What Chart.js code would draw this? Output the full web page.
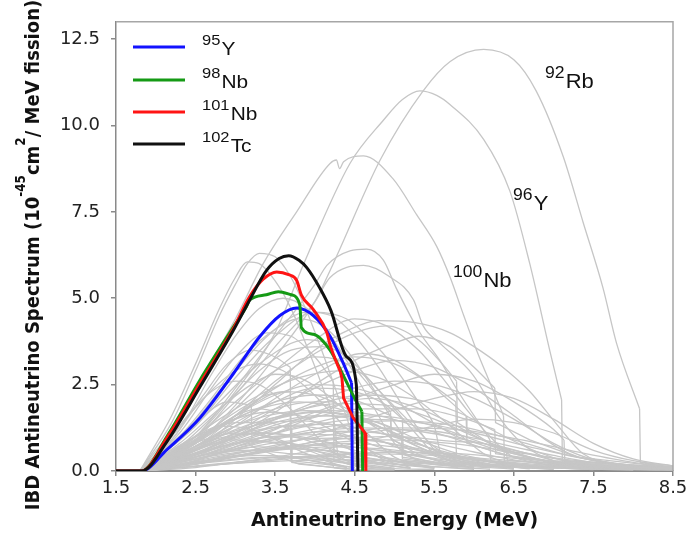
<!DOCTYPE html>
<html>
<head>
<meta charset="utf-8">
<script src="https://cdn.jsdelivr.net/npm/chart.js@4.4.1/dist/chart.umd.min.js"></script>
<style>
    html, body { margin: 0; padding: 0; background: #fff; }
</style>
</head>
<body>
<canvas id="ibdChart" width="693" height="537"></canvas>
<script>
// Axis ticks
const energyTicks = [1.5, 2.5, 3.5, 4.5, 5.5, 6.5, 7.5, 8.5];
const spectrumTicks = [0, 2.5, 5, 7.5, 10, 12.5];

// Highlighted isotopes (legend)
const highlightMass = ['95', '98', '101', '102'];
const highlightElement = ['Y', 'Nb', 'Nb', 'Tc'];

// [energy MeV, spectrum]
const spec95Y = [[1.5,0],[1.82,0],[2.14,0.62],[2.56,1.55],[2.97,2.8],[3.31,3.9],[3.56,4.5],[3.77,4.72],[3.98,4.5],[4.19,3.9],[4.36,3.1],[4.46,2.55],[4.47,0]];
const spec98Nb = [[1.5,0],[1.82,0],[2.14,1.0],[2.56,2.65],[2.97,4.15],[3.14,4.76],[3.18,4.95],[3.39,5.1],[3.54,5.19],[3.7,5.1],[3.81,4.81],[3.83,4.15],[3.98,3.96],[4.19,3.5],[4.36,2.75],[4.5,2.1],[4.59,1.72],[4.6,0]];
const spec101Nb = [[1.5,0],[1.82,0],[2.14,0.95],[2.56,2.55],[2.97,4.1],[3.18,5.05],[3.35,5.55],[3.52,5.76],[3.67,5.68],[3.77,5.52],[3.83,5.09],[3.98,4.67],[4.15,4.0],[4.19,3.65],[4.32,2.87],[4.34,2.68],[4.36,2.11],[4.48,1.54],[4.61,1.16],[4.63,1.1],[4.64,0]];
const spec102Tc = [[1.5,0],[1.82,0],[2.14,0.85],[2.56,2.45],[2.97,4.05],[3.18,4.95],[3.39,5.8],[3.55,6.15],[3.67,6.23],[3.8,6.1],[3.9,5.88],[4.06,5.3],[4.2,4.65],[4.4,3.3],[4.52,2.5],[4.54,0]];

// Labelled grey spectra
const spec92Rb = [[1.8,0],[2.5,0.8],[3.0,1.9],[3.5,3.3],[4.0,4.9],[4.23,6.0],[4.82,9.0],[5.36,11.0],[5.7,11.85],[6.12,12.2],[6.5,11.9],[6.78,11.0],[7.12,9.1],[7.37,7.2],[7.62,5.3],[7.79,3.7],[8.08,1.8],[8.09,0.25],[8.5,0.1]];
const spec96Y = [[1.8,0],[2.5,1.0],[3.0,2.3],[3.5,4.0],[3.86,6.0],[4.44,8.9],[4.86,10.15],[5.1,10.75],[5.32,11.0],[5.53,10.87],[5.7,10.6],[6.12,9.6],[6.45,8.1],[6.7,6.0],[6.95,3.5],[7.1,2.06],[7.11,0.25],[8.5,0.05]];
const spec100Nb = [[1.8,0],[2.2,1.2],[2.5,2.4],[3.0,4.4],[3.35,6.0],[3.77,7.5],[4.19,8.9],[4.27,9.0],[4.31,8.75],[4.36,8.95],[4.61,9.12],[4.98,8.46],[5.28,7.41],[5.53,6.5],[5.7,5.6],[5.87,4.5],[6.03,3.5],[6.2,2.55],[6.37,1.6],[6.38,0.3],[8.5,0.05]];
const labelMass = ['92', '96', '100'];
const labelElement = ['Rb', 'Y', 'Nb'];

// Remaining grey spectra
const otherSpectra = [
    [[1.8,0],[2.2,1.4],[2.5,2.9],[2.8,4.5],[3.0,5.4],[3.15,6.0],[3.3,6.3],[3.5,6.2],[3.7,5.6],[3.9,4.6],[4.1,3.4],[4.3,2.1],[4.45,1.1],[4.5,0.2],[5.5,0.05]],
    [[1.8,0],[2.2,1.6],[2.5,3.1],[2.8,4.7],[3.0,5.6],[3.15,6.05],[3.3,6.0],[3.5,5.5],[3.7,4.7],[3.9,3.6],[4.1,2.4],[4.25,1.3],[4.3,0.3],[5.0,0.05]],
    [[1.8,0],[2.5,1.0],[3.0,2.4],[3.5,3.9],[4.0,5.4],[4.15,5.95],[4.44,6.37],[4.65,6.42],[4.86,6.1],[5.02,5.3],[5.32,4.0],[5.57,3.2],[5.8,2.3],[6.0,1.6],[6.2,0.9],[6.21,0.3],[7.5,0.05]],
    [[1.8,0],[2.5,0.9],[3.0,2.2],[3.5,3.6],[4.0,4.9],[4.19,5.6],[4.61,5.95],[4.94,5.62],[5.24,4.95],[5.36,4.2],[5.57,3.7],[5.99,2.77],[6.3,1.6],[6.6,0.8],[7.0,0.3],[8.0,0.08]],
    [[1.8,0],[2.5,0.6],[3.0,1.5],[3.5,2.5],[4.0,3.5],[4.44,4.1],[4.8,4.35],[5.24,4.3],[5.7,4.0],[6.0,3.6],[6.33,3.06],[6.7,2.3],[7.04,1.35],[7.37,0.5],[7.8,0.2],[8.5,0.08]],
    [[1.8,0],[2.3,1.2],[2.7,2.8],[3.0,3.9],[3.3,4.7],[3.6,5.0],[3.9,4.7],[4.2,3.9],[4.5,2.8],[4.8,1.6],[5.0,0.8],[5.3,0.3],[6.0,0.1]],
    [[1.8,0],[2.5,1.3],[3.0,2.7],[3.5,3.9],[4.0,4.6],[4.4,4.4],[4.7,3.8],[5.0,3.0],[5.3,2.0],[5.5,1.3],[5.6,0.4],[6.5,0.1]],
    [[1.8,0],[2.5,0.8],[3.0,1.8],[3.5,2.9],[4.0,3.8],[4.5,4.4],[4.9,4.2],[5.3,3.5],[5.6,2.7],[5.9,1.8],[6.2,1.0],[6.5,0.4],[7.5,0.1]],
    [[1.8,0],[2.3,1.1],[2.7,2.4],[3.0,3.3],[3.4,4.0],[3.7,3.9],[4.0,3.3],[4.23,2.6],[4.24,0.9],[4.6,0.4],[5.5,0.1]],
    [[1.8,0],[2.2,0.9],[2.6,2.2],[2.9,3.1],[3.2,3.5],[3.5,3.3],[3.69,3.0],[3.7,0.3],[4.5,0.1]],
    [[1.8,0],[2.5,0.7],[3.0,1.6],[3.5,2.6],[4.0,3.4],[4.5,4.0],[4.9,4.2],[5.3,3.8],[5.6,3.1],[5.78,2.6],[5.79,1.4],[6.2,0.8],[7.0,0.3],[8.5,0.08]],
    [[1.8,0],[2.5,0.4],[3.0,1.0],[3.5,1.7],[4.0,2.5],[4.5,3.2],[5.0,3.7],[5.3,3.9],[5.7,3.6],[6.0,3.0],[6.26,2.4],[6.27,1.4],[6.7,0.9],[7.3,0.4],[8.5,0.1]],
    [[1.8,0],[2.5,0.5],[3.0,1.1],[3.5,1.8],[4.0,2.4],[4.5,2.9],[5.0,3.2],[5.5,3.0],[6.0,2.4],[6.5,1.6],[6.9,0.9],[7.2,0.5],[7.6,0.25],[8.5,0.1]],
    [[1.8,0],[2.3,0.7],[2.8,1.5],[3.3,2.2],[3.8,2.7],[4.3,2.9],[4.8,2.7],[5.2,2.2],[5.6,1.5],[5.9,0.9],[6.2,0.4],[7.0,0.1]],
    [[1.8,0],[2.3,0.9],[2.8,2.0],[3.3,3.1],[3.9,3.8],[4.3,3.5],[4.6,2.7],[4.95,1.7],[4.96,1.05],[5.4,0.6],[6.2,0.2],[7.5,0.05]],
    [[1.8,0],[2.5,0.6],[3.0,1.3],[3.5,2.1],[4.0,2.8],[4.6,3.4],[5.0,3.2],[5.4,2.6],[5.9,1.6],[5.91,0.8],[6.5,0.4],[7.5,0.15],[8.5,0.05]],
    [[1.8,0],[2.3,1.0],[2.7,2.1],[3.1,3.3],[3.5,4.1],[3.8,4.4],[4.1,4.2],[4.4,3.5],[4.7,2.5],[5.0,1.4],[5.09,1.1],[5.1,0.4],[6.0,0.1]],
    [[1.8,0],[2.1,0.7],[2.4,1.6],[2.7,2.3],[3.0,2.6],[3.3,2.5],[3.6,2.0],[3.9,1.3],[4.2,0.6],[4.5,0.2],[5.0,0.05]],
    [[1.8,0],[2.3,0.6],[2.8,1.3],[3.2,1.9],[3.6,2.3],[4.0,2.2],[4.4,1.8],[4.8,1.2],[5.2,0.6],[5.6,0.25],[6.5,0.05]],
    [[1.8,0],[2.5,0.3],[3.0,0.7],[3.5,1.1],[4.0,1.6],[4.5,2.1],[5.0,2.5],[5.5,2.8],[6.0,2.6],[6.5,2.0],[7.0,1.2],[7.13,0.9],[7.14,0.3],[8.5,0.1]],
    [[1.8,0],[2.5,0.4],[3.0,0.8],[3.5,1.2],[4.0,1.7],[4.7,2.1],[5.2,1.9],[5.7,1.4],[6.2,0.8],[6.7,0.4],[7.5,0.15],[8.5,0.05]],
    [[1.8,0],[2.2,0.5],[2.7,1.2],[3.3,1.8],[3.69,1.6],[3.7,0.4],[4.5,0.1]],
    [[1.8,0],[2.4,0.4],[3.0,0.9],[3.6,1.4],[4.2,1.6],[4.8,1.4],[5.3,0.9],[5.8,0.5],[6.5,0.2],[7.5,0.05]],
    [[1.8,0],[2.2,0.6],[2.5,1.0],[2.8,1.3],[3.2,1.2],[3.6,0.8],[4.0,0.4],[4.4,0.1]],
    [[1.8,0],[2.5,0.2],[3.0,0.4],[3.5,0.6],[4.0,0.85],[4.5,1.05],[5.0,1.2],[5.5,1.15],[6.0,0.95],[6.5,0.7],[7.0,0.45],[7.5,0.25],[8.5,0.1]],
    [[1.8,0],[2.4,0.4],[3.0,0.8],[3.5,1.0],[4.0,0.9],[4.5,0.6],[5.0,0.3],[5.5,0.1]],
    [[1.8,0],[2.5,0.2],[3.2,0.5],[3.8,0.7],[4.4,0.8],[5.0,0.7],[5.6,0.5],[6.3,0.25],[7.0,0.1],[8.5,0.03]],
    [[1.8,0],[2.2,0.8],[2.6,1.6],[2.9,2.0],[3.2,1.9],[3.21,0.7],[3.8,0.2],[4.5,0.05]],
    [[1.8,0],[2.5,0.1],[3.0,0.25],[3.5,0.4],[4.0,0.6],[4.5,0.8],[5.0,1.05],[5.5,1.3],[6.0,1.5],[6.5,1.4],[7.0,1.1],[7.5,0.6],[8.0,0.3],[8.5,0.15]],
    [[1.8,0],[2.2,1.0],[2.6,2.1],[3.0,2.9],[3.3,3.1],[3.6,2.9],[3.9,2.4],[4.2,1.7],[4.5,1.0],[4.8,0.4],[5.2,0.1]],
    [[1.8,0],[2.4,0.6],[3.0,1.4],[3.5,2.0],[4.0,2.4],[4.5,2.3],[4.9,1.9],[5.1,1.5],[5.11,0.5],[5.8,0.2],[7.0,0.05]],
    [[1.8,0],[2.4,0.9],[2.9,2.0],[3.3,2.9],[3.7,3.5],[4.1,3.6],[4.4,3.3],[4.7,2.6],[5.0,1.8],[5.3,1.0],[5.5,0.5],[6.0,0.15]],
    [[1.8,0],[2.5,1.0],[3.0,2.0],[3.5,2.9],[4.0,3.3],[4.3,3.2],[4.6,2.8],[4.9,2.1],[5.2,1.4],[5.5,0.7],[5.8,0.3],[6.5,0.08]],
    [[1.8,0],[2.3,0.8],[2.8,1.8],[3.2,2.5],[3.5,2.8],[3.8,2.7],[4.1,2.3],[4.4,1.7],[4.7,1.0],[5.0,0.4],[5.5,0.1]],
    [[1.8,0],[2.4,1.2],[2.9,2.6],[3.4,3.9],[3.9,4.6],[4.2,4.5],[4.5,3.9],[4.8,3.0],[5.1,1.9],[5.4,0.9],[5.6,0.4],[6.2,0.1]],
    [[1.8,0],[2.3,0.3],[2.8,0.55],[3.3,0.7],[3.8,0.65],[4.3,0.45],[4.8,0.25],[5.5,0.08]],
    [[1.8,0],[2.5,0.15],[3.5,0.35],[4.5,0.5],[5.5,0.45],[6.5,0.3],[7.5,0.15],[8.5,0.06]],
    [[1.8,0],[2.2,0.5],[2.6,0.9],[3.0,1.1],[3.4,1.0],[3.8,0.7],[4.2,0.35],[4.6,0.1]],
    [[1.8,0],[2.4,0.3],[3.0,0.6],[3.6,0.85],[4.2,0.95],[4.8,0.85],[5.4,0.6],[6.0,0.35],[6.8,0.12],[8.0,0.03]],
    [[1.8,0],[2.3,0.2],[2.8,0.35],[3.3,0.45],[3.8,0.4],[4.3,0.25],[4.8,0.1]],
    [[1.8,0],[2.5,0.5],[3.0,1.0],[3.5,1.4],[4.0,1.6],[4.5,1.5],[5.0,1.1],[5.5,0.6],[6.0,0.25],[6.7,0.06]],
    [[1.8,0],[2.5,0.3],[3.0,0.7],[3.5,1.1],[4.0,1.4],[4.5,1.6],[5.0,1.55],[5.5,1.3],[6.0,0.9],[6.5,0.5],[7.0,0.22],[7.8,0.06]],
    [[1.8,0],[2.2,0.35],[2.6,0.7],[3.0,0.9],[3.4,0.85],[3.7,0.7],[3.71,0.25],[4.4,0.05]],
    [[1.8,0],[2.6,0.25],[3.4,0.6],[4.2,0.9],[5.0,1.0],[5.8,0.85],[6.4,0.55],[6.43,0.25],[7.5,0.1],[8.5,0.04]],
    [[1.8,0],[2.3,0.6],[2.8,1.3],[3.3,1.8],[3.8,2.0],[4.3,1.8],[4.8,1.3],[5.3,0.7],[5.8,0.3],[6.5,0.08]],
    [[1.8,0],[2.4,0.7],[3.0,1.6],[3.5,2.2],[4.0,2.5],[4.5,2.4],[5.0,2.0],[5.4,1.5],[5.77,1.0],[5.78,0.4],[6.5,0.15],[7.5,0.04]],
    [[1.8,0],[2.5,0.4],[3.2,0.9],[3.9,1.3],[4.6,1.5],[5.3,1.4],[6.0,1.1],[6.7,0.7],[7.4,0.35],[8.0,0.16],[8.5,0.09]],
    [[1.8,0],[2.2,0.25],[2.7,0.5],[3.2,0.6],[3.7,0.5],[4.2,0.3],[4.24,0.1],[5.0,0.03]],
    [[1.8,0],[2.5,0.7],[3.0,1.3],[3.5,1.8],[4.0,2.0],[4.23,2.0],[4.24,0.6],[5.0,0.2],[6.0,0.05]],
    [[1.8,0],[2.6,0.6],[3.3,1.3],[4.0,1.9],[4.6,2.2],[5.2,2.1],[5.8,1.7],[6.3,1.1],[6.8,0.55],[7.3,0.2],[8.0,0.06]],
    [[1.8,0],[2.4,0.45],[3.0,0.95],[3.6,1.3],[4.2,1.35],[4.8,1.1],[5.4,0.7],[6.0,0.35],[6.6,0.12]],
    [[1.8,0],[2.3,0.4],[2.8,0.85],[3.3,1.2],[3.8,1.3],[4.3,1.1],[4.8,0.7],[5.3,0.35],[5.8,0.1]],
    [[1.8,0],[2.6,0.15],[3.4,0.3],[4.2,0.45],[5.0,0.55],[5.8,0.5],[6.6,0.35],[7.4,0.2],[8.5,0.08]],
    [[1.8,0],[2.4,0.25],[3.0,0.5],[3.6,0.7],[4.2,0.75],[4.8,0.6],[5.4,0.4],[6.0,0.2],[7.0,0.05]],
    [[1.8,0],[2.5,0.9],[3.0,1.7],[3.4,2.2],[3.69,2.3],[3.7,0.8],[4.4,0.3],[5.2,0.08]],
    [[1.8,0],[2.5,0.5],[3.2,1.2],[3.9,1.9],[4.5,2.4],[5.0,2.6],[5.5,2.5],[6.0,2.1],[6.5,1.5],[7.0,0.8],[7.4,0.4],[8.0,0.15],[8.5,0.08]],
    [[1.8,0],[2.3,0.15],[2.9,0.3],[3.5,0.4],[4.1,0.42],[4.7,0.35],[5.3,0.22],[6.0,0.1]],
    [[1.8,0],[2.5,0.8],[3.0,1.6],[3.5,2.4],[4.0,3.0],[4.5,3.3],[5.0,3.1],[5.4,2.6],[5.77,2.0],[5.78,1.0],[6.3,0.6],[7.0,0.25],[8.0,0.07]],
    [[1.8,0],[2.4,0.55],[3.0,1.2],[3.6,1.6],[4.2,1.75],[4.8,1.6],[5.4,1.2],[6.0,0.75],[6.5,0.4],[7.2,0.15],[8.5,0.04]],
    [[1.8,0],[2.2,0.45],[2.6,1.0],[3.0,1.5],[3.4,1.7],[3.8,1.6],[4.2,1.2],[4.6,0.7],[5.0,0.3],[5.5,0.08]],
    [[1.8,0],[2.5,0.2],[3.5,0.7],[4.5,1.4],[5.5,2.1],[6.0,2.3],[6.5,2.1],[7.0,1.5],[7.5,0.8],[8.0,0.35],[8.5,0.15]],
    [[1.8,0],[2.3,0.35],[2.9,0.75],[3.5,1.0],[4.1,1.05],[4.7,0.9],[5.3,0.6],[5.9,0.3],[6.6,0.1]],
    [[1.8,0],[2.2,0.3],[2.7,0.65],[3.2,0.85],[3.7,0.8],[4.2,0.55],[4.7,0.25],[5.2,0.08]],
    [[1.8,0],[2.5,0.35],[3.2,0.75],[3.9,1.1],[4.6,1.25],[5.3,1.15],[6.0,0.85],[6.7,0.5],[7.4,0.22],[8.5,0.06]],
    [[1.8,0],[2.4,0.5],[3.0,1.1],[3.5,1.5],[4.0,1.7],[4.5,1.6],[5.0,1.2],[5.09,1.1],[5.1,0.35],[6.0,0.1]],
    [[1.8,0],[2.3,0.5],[2.8,1.0],[3.3,1.35],[3.8,1.45],[4.3,1.3],[4.8,0.9],[5.3,0.45],[5.9,0.15]],
    [[1.8,0],[2.6,0.4],[3.4,0.9],[4.2,1.3],[5.0,1.45],[5.8,1.3],[6.5,0.9],[7.1,0.5],[7.8,0.2],[8.5,0.08]],
    [[1.8,0],[2.2,0.15],[2.8,0.3],[3.4,0.4],[4.0,0.38],[4.6,0.28],[5.3,0.15],[6.2,0.05]],
    [[1.8,0],[2.4,0.6],[2.9,1.2],[3.4,1.6],[3.9,1.75],[4.4,1.6],[4.9,1.2],[5.4,0.7],[5.9,0.3],[6.5,0.08]],
    [[1.8,0],[2.5,0.25],[3.3,0.55],[4.1,0.8],[4.9,0.9],[5.7,0.8],[6.5,0.55],[7.3,0.3],[8.5,0.1]],
    [[1.8,0],[2.2,0.55],[2.6,1.1],[3.0,1.4],[3.4,1.4],[3.7,1.2],[3.71,0.4],[4.4,0.1]],
    [[1.8,0],[2.4,0.2],[3.0,0.45],[3.6,0.62],[4.2,0.7],[4.8,0.65],[5.4,0.5],[6.0,0.32],[6.8,0.15],[8.0,0.04]],
    [[1.8,0],[2.5,0.6],[3.1,1.2],[3.7,1.7],[4.3,1.95],[4.9,1.9],[5.5,1.5],[6.0,1.0],[6.5,0.55],[7.0,0.25],[8.0,0.05]],
    [[1.8,0],[2.3,0.45],[2.8,0.9],[3.3,1.1],[3.8,1.0],[4.23,0.8],[4.24,0.3],[5.0,0.08]],
    [[1.8,0],[2.5,0.45],[3.2,1.0],[3.9,1.5],[4.6,1.8],[5.3,1.8],[5.9,1.5],[6.26,1.2],[6.27,0.5],[7.2,0.2],[8.5,0.06]],
    [[1.8,0],[2.3,0.25],[2.9,0.5],[3.5,0.65],[4.1,0.6],[4.7,0.45],[5.3,0.25],[6.0,0.1]],
    [[1.8,0],[2.6,0.3],[3.4,0.7],[4.2,1.05],[5.0,1.25],[5.8,1.2],[6.6,0.9],[7.4,0.5],[8.0,0.25],[8.5,0.12]],
    [[1.8,0],[2.2,0.4],[2.6,0.8],[3.0,1.05],[3.4,1.1],[3.8,0.95],[4.2,0.65],[4.6,0.35],[5.0,0.12]],
    [[1.8,0],[2.4,0.35],[3.0,0.7],[3.6,1.0],[4.2,1.15],[4.8,1.1],[5.4,0.85],[6.0,0.55],[6.6,0.28],[7.4,0.1]],
    [[1.8,0],[2.5,0.8],[3.0,1.5],[3.5,2.0],[4.0,2.2],[4.5,2.05],[4.95,1.6],[4.96,0.9],[5.6,0.35],[6.5,0.1]],
    [[1.8,0],[2.3,0.1],[3.0,0.22],[3.7,0.3],[4.4,0.32],[5.1,0.28],[5.8,0.2],[6.8,0.1],[8.5,0.03]]
];

const highlightColors = ['#1212ff', '#159a15', '#ff1414', '#111111'];
const greyColor = '#c6c6c6';

const toXY = pts => pts.map(p => ({ x: p[0], y: p[1] }));

// smooth part up to a sudden end-point drop, straight segments from there on
function splitAtDrop(pts) {
    for (let i = 0; i < pts.length - 1; i++) {
        if (pts[i + 1][0] - pts[i][0] < 0.02) {
            return [pts.slice(0, i + 1), pts.slice(i)];
        }
    }
    return [pts];
}

const datasets = [];
function addSpectrum(label, pts, color, width) {
    splitAtDrop(pts).forEach((part, j) => {
        datasets.push({
            label: label,
            data: toXY(part),
            borderColor: color,
            borderWidth: width,
            pointRadius: 0,
            fill: false,
            tension: 0,
            cubicInterpolationMode: j === 0 ? 'monotone' : 'default'
        });
    });
}

// dataset 0 is drawn last, so highlighted ones go first
[spec102Tc, spec101Nb, spec98Nb, spec95Y].forEach((pts, i) => {
    const k = 3 - i;
    addSpectrum(highlightMass[k] + highlightElement[k], pts, highlightColors[k], 3);
});
[spec92Rb, spec96Y, spec100Nb].forEach((pts, i) => {
    addSpectrum(labelMass[i] + labelElement[i], pts, greyColor, 1.3);
});
otherSpectra.forEach((pts, i) => {
    addSpectrum('other' + i, pts, greyColor, 1.3);
});

// draw "mass" superscript + element symbol
function isotopeText(ctx, mass, element, x, baseline, size, supSize, rise) {
    ctx.save();
    ctx.translate(x, baseline);
    ctx.scale(1.1, 1);
    ctx.fillStyle = '#111';
    ctx.textBaseline = 'alphabetic';
    ctx.textAlign = 'left';
    ctx.font = supSize + "px 'Liberation Sans', Arial, sans-serif";
    ctx.fillText(mass, 0, -rise);
    const w = ctx.measureText(mass).width;
    ctx.font = size + "px 'Liberation Sans', Arial, sans-serif";
    ctx.fillText(element, w + 1, 0);
    ctx.restore();
}

const decorations = {
    id: 'decorations',
    afterDatasetsDraw(chart) {
        const ctx = chart.ctx;
        const area = chart.chartArea;

        // top and right frame
        ctx.save();
        ctx.strokeStyle = '#a6a6a6';
        ctx.lineWidth = 1.5;
        ctx.beginPath();
        ctx.moveTo(area.left, area.top);
        ctx.lineTo(area.right, area.top);
        ctx.lineTo(area.right, area.bottom);
        ctx.stroke();
        ctx.restore();

        // legend
        const legendY = [47, 80, 112, 144];
        highlightMass.forEach((m, k) => {
            ctx.save();
            ctx.strokeStyle = highlightColors[k];
            ctx.lineWidth = 3;
            ctx.beginPath();
            ctx.moveTo(133, legendY[k]);
            ctx.lineTo(185, legendY[k]);
            ctx.stroke();
            ctx.restore();
            isotopeText(ctx, m, highlightElement[k], 202, legendY[k] + 8, 19, 15, 10);
        });

        // labels beside the large grey spectra
        const labelPos = [[545, 88], [513, 210], [453, 287]];
        labelMass.forEach((m, i) => {
            isotopeText(ctx, m, labelElement[i], labelPos[i][0], labelPos[i][1], 20, 16, 10);
        });
    },
    afterDraw(chart) {
        // y axis title with superscripts
        const ctx = chart.ctx;
        const parts = [
            ['IBD Antineutrino Spectrum (10', false],
            ['-45', true],
            ['cm', false],
            ['2', true],
            ['/ MeV fission)', false]
        ];
        const mainFont = "bold 18px 'DejaVu Sans', Verdana, sans-serif";
        const supFont = "bold 12px 'DejaVu Sans', Verdana, sans-serif";
        ctx.save();
        let total = 0;
        parts.forEach(p => {
            ctx.font = p[1] ? supFont : mainFont;
            total += ctx.measureText(p[0]).width;
        });
        ctx.translate(39, 255);
        ctx.scale(1.1, 1);
        ctx.rotate(-Math.PI / 2);
        ctx.fillStyle = '#111';
        ctx.textBaseline = 'alphabetic';
        let u = -total / 2;
        parts.forEach(p => {
            ctx.font = p[1] ? supFont : mainFont;
            ctx.fillText(p[0], u, p[1] ? -13 : 0);
            u += ctx.measureText(p[0]).width;
        });
        ctx.restore();
    }
};

const tickFont = { family: "'DejaVu Sans', sans-serif", size: 18 };

new Chart(document.getElementById('ibdChart'), {
    type: 'line',
    data: { datasets: datasets },
    options: {
        responsive: false,
        animation: false,
        devicePixelRatio: 1,
        layout: { padding: { top: 13, right: 20, left: 0, bottom: 0 } },
        plugins: {
            legend: { display: false },
            tooltip: { enabled: false }
        },
        scales: {
            x: {
                type: 'linear',
                min: 1.5,
                max: 8.5,
                afterBuildTicks: scale => { scale.ticks = energyTicks.map(v => ({ value: v })); },
                afterFit: scale => { scale.height = 66; },
                ticks: {
                    font: tickFont,
                    color: '#222',
                    padding: 2,
                    maxRotation: 0,
                    callback: v => v.toFixed(1)
                },
                grid: { display: true, drawOnChartArea: false, tickLength: 5, color: '#8a8a8a', lineWidth: 1.5 },
                border: { display: true, color: '#8a8a8a', width: 2 },
                title: {
                    display: true,
                    text: 'Antineutrino Energy (MeV)',
                    color: '#111',
                    font: { family: "'DejaVu Sans', Verdana, sans-serif", size: 19, weight: 'bold' },
                    padding: { top: 0, bottom: 5 }
                }
            },
            y: {
                type: 'linear',
                min: 0,
                max: 13,
                afterBuildTicks: scale => { scale.ticks = spectrumTicks.map(v => ({ value: v })); },
                afterFit: scale => { scale.width = 116; },
                ticks: {
                    font: tickFont,
                    color: '#222',
                    padding: 11,
                    callback: v => v.toFixed(1)
                },
                grid: { display: true, drawOnChartArea: false, tickLength: 5, color: '#8a8a8a', lineWidth: 1.5 },
                border: { display: true, color: '#8a8a8a', width: 1.5 }
            }
        }
    },
    plugins: [decorations]
});
</script>
</body>
</html>
